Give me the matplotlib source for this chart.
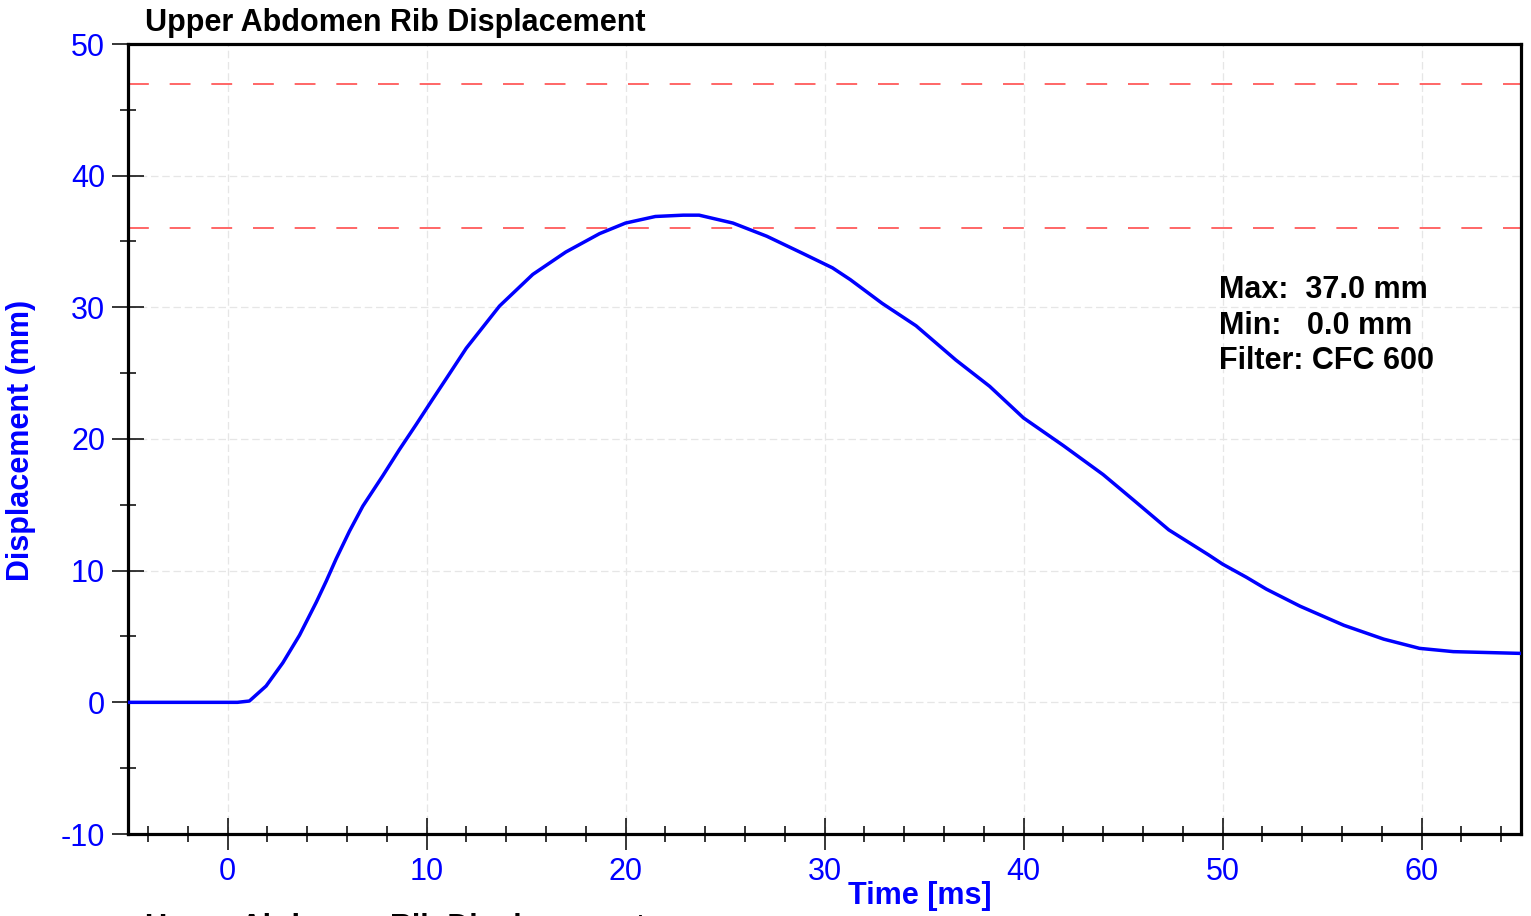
import numpy as np
import matplotlib
matplotlib.use("Agg")
import matplotlib.pyplot as plt
from matplotlib.ticker import MultipleLocator

plt.rcParams['font.family'] = ['Liberation Sans', 'DejaVu Sans']
plt.rcParams['axes.unicode_minus'] = False

# data
time_ms = [-5.0, -3.0, -1.0, 0.0, 0.5, 1.1, 1.94, 2.78, 3.62, 4.46, 4.96, 5.46,
           6.13, 6.8, 7.8, 8.64, 9.48, 10.3, 11.0, 12.0, 13.67, 15.34, 17.0,
           18.7, 20.0, 21.5, 22.9, 23.7, 25.4, 27.1, 28.9, 30.4, 31.3, 32.9,
           34.6, 36.6, 38.3, 40.0, 42.0, 44.0, 45.5, 47.3, 49.3, 50.0, 51.2,
           52.2, 53.9, 56.1, 58.1, 59.9, 61.6, 64.9, 65.0]
displacement = [0.0, 0.0, 0.0, 0.0, 0.0, 0.1, 1.24, 3.0, 5.1, 7.6, 9.2, 10.9,
                13.0, 14.9, 17.2, 19.2, 21.1, 23.0, 24.6, 26.9, 30.1, 32.5, 34.2,
                35.6, 36.4, 36.9, 37.0, 37.0, 36.4, 35.4, 34.1, 33.0, 32.1, 30.3,
                28.6, 26.0, 24.0, 21.6, 19.5, 17.3, 15.4, 13.1, 11.2, 10.5, 9.5,
                8.6, 7.3, 5.85, 4.8, 4.1, 3.85, 3.72, 3.72]
limits = [47.0, 36.0]
stats_text = ["Max:  37.0 mm", "Min:   0.0 mm", "Filter: CFC 600"]
title = "Upper Abdomen Rib Displacement"

W, H = 1531, 916
fig = plt.figure(figsize=(W / 100, H / 100), dpi=100)
ax = fig.add_axes([128 / W, 1 - 834 / H, (1521 - 128) / W, (834 - 44) / H])

ax.plot(time_ms, displacement, color="#0000ff", linewidth=2.5, zorder=3,
        solid_joinstyle="round")
for lim in limits:
    ax.axhline(lim, color="#ff4d4d", linewidth=1.2, linestyle=(0, (12.5, 12.5)), zorder=2)

ax.set_xlim(-5, 65)
ax.set_ylim(-10, 50)
ax.xaxis.set_major_locator(MultipleLocator(10))
ax.xaxis.set_minor_locator(MultipleLocator(2))
ax.yaxis.set_major_locator(MultipleLocator(10))
ax.yaxis.set_minor_locator(MultipleLocator(5))

ax.grid(True, which="major", color="#e6e6e6", linestyle=(0, (6, 3)), linewidth=0.9, zorder=0)
for sp in ax.spines.values():
    sp.set_linewidth(2.3)
    sp.set_color("black")

ax.tick_params(which="major", direction="inout", length=23, width=1.1,
               labelsize=22, labelcolor="#0000ff", pad=5)
ax.tick_params(which="minor", direction="inout", length=12, width=1.1)

fig.text(145 / W, 1 - 31 / H, title, fontsize=22, fontweight="bold",
         ha="left", va="baseline")
# second chart title, cut off at the bottom edge as in the reference
fig.text(145 / W, -0.022, title, fontsize=22, fontweight="bold",
         ha="left", va="baseline")
fig.text(920 / W, 1 - 896 / H, "Time [ms]", fontsize=22, fontweight="bold",
         color="#0000ff", ha="center", va="center")
fig.text(21 / W, 1 - 440 / H, "Displacement (mm)", fontsize=22, fontweight="bold",
         color="#0000ff", ha="center", va="center", rotation=90)

for i, line in enumerate(stats_text):
    fig.text(1219 / W, 1 - (290 + 35.5 * i) / H, line, fontsize=22,
             fontweight="bold", ha="left", va="center")

fig.savefig("out.png", dpi=100)
